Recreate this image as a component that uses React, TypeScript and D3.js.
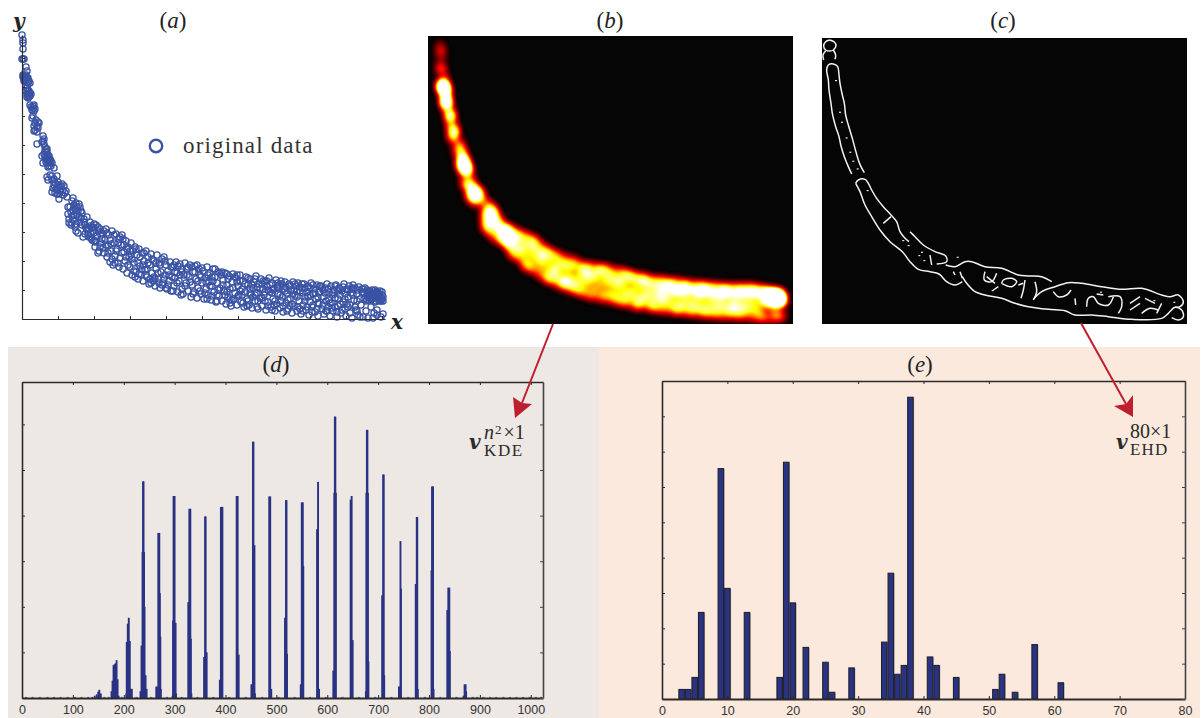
import { useEffect, useRef } from 'react';
import * as d3 from 'd3';

// (a) original data
const originalData: [number, number][] = [
  [0,284],[1,279],[1,276],[1,270],[1,260],[0,260],[2,260],[4,252],[5,248],[2,243],[4,242],[6,241],[3,241],[8,236],[6,237],[1,244],[3,238],[5,231],[5,225],[8,226],[7,222],[6,224],[9,225],
  [8,214],[11,213],[13,210],[11,211],[10,201],[14,199],[17,196],[12,193],[16,191],[12,188],[15,187],
  [21,183],[22,180],[15,175],[20,177],[23,172],[20,163],[25,167],[23,162],[26,164],[28,160],[21,156],[25,156],[24,160],[27,158],[30,156],[32,151],[27,153],[29,158],[26,152],
  [25,142],[28,144],[35,143],[30,139],[33,136],[40,135],[31,131],[35,129],[41,129],[30,127],[37,120],[45,122],[51,121],[33,126],[38,132],[43,126],[36,134],
  [54,116],[48,112],[58,112],[51,109],[46,105],[55,104],[60,106],[52,114],[56,108],[51,99],[49,94],[53,92],[58,97],[50,103],[47,96],[56,86],[54,95],[61,82],[65,89],[65,102],[68,97],[59,101],[71,92],[76,92],[67,82],[73,77],[76,66],
  [62,100],[64,91],[66,84],[68,93],[70,79],[71,88],[73,72],[74,94],[75,83],[77,68],[78,90],[79,76],[80,86],[81,71],
  [82,66],[83,79],[84,90],[85,62],[86,73],[87,84],[88,57],[89,68],[90,88],[91,54],[92,76],[93,63],[94,85],[95,70],[96,56],[97,80],[98,61],[99,74],[100,84],
  [101,50],[102,67],[103,58],[104,78],[105,46],[106,72],[107,62],[108,52],[109,76],[110,44],[111,68],[112,56],[113,72],[114,47],[115,64],[116,40],[117,70],[118,53],[119,44],[120,66],
  [121,38],[122,58],[123,49],[124,68],[125,42],[126,62],[127,35],[128,54],[129,65],[130,46],[131,38],[132,58],[133,33],[134,50],[135,64],[136,40],[137,56],[138,31],[139,47],[140,60],
  [141,36],[142,62],[143,44],[144,54],[145,30],[146,48],[147,38],[148,57],[149,28],[150,42],[151,52],[152,33],[153,47],[154,57],[155,46],[156,27],[157,38],[158,55],[159,50],[160,30],
  [161,25],[162,44],[163,56],[164,36],[165,50],[166,28],[167,42],[168,54],[169,22],[170,34],[171,47],[172,27],[173,53],[174,40],[175,21],[176,31],[177,50],[178,44],[179,25],[180,36],
  [181,48],[182,20],[183,41],[184,30],[185,52],[186,24],[187,37],[188,46],[189,19],[190,33],[191,50],[192,27],[193,42],[194,17],[195,36],[196,47],[197,23],[198,31],[199,44],[200,18],
  [201,39],[202,28],[203,46],[204,15],[205,34],[206,22],[207,43],[208,30],[209,13],[210,37],[211,45],[212,20],[213,26],[214,41],[215,14],[216,33],[217,24],[218,44],[219,17],[220,30],
  [221,38],[222,12],[223,27],[224,42],[225,20],[226,34],[227,14],[228,40],[229,24],[230,11],[231,31],[232,37],[233,18],[234,43],[235,26],[236,10],[237,35],[238,21],[239,40],[240,13],
  [241,30],[242,24],[243,38],[244,9],[245,33],[246,17],[247,41],[248,27],[249,12],[250,36],[251,20],[252,30],[253,8],[254,39],[255,15],[256,25],[257,34],[258,11],[259,38],[260,22],
  [261,7],[262,30],[263,37],[264,16],[265,26],[266,10],[267,35],[268,20],[269,28],[270,6],[271,37],[272,13],[273,24],[274,33],[275,8],[276,36],[277,18],[278,28],[279,5],[280,31],
  [281,14],[282,35],[283,22],[284,9],[285,27],[286,33],[287,4],[288,17],[289,36],[290,12],[291,25],[292,30],[293,7],[294,20],[295,34],[296,3],[297,15],[298,27],[299,33],[300,10],
  [301,22],[302,5],[303,31],[304,18],[305,35],[306,12],[307,26],[308,3],[309,33],[310,16],[311,8],[312,29],[313,21],[314,34],[315,2],[316,13],[317,31],[318,24],[319,6],[320,28],
  [321,17],[322,35],[323,10],[324,3],[325,30],[326,22],[327,33],[328,14],[329,26],[330,1],[331,34],[332,19],[333,31],[334,9],[335,25],[336,4],[337,32],[338,2],[339,14],[340,27],
  [341,2],[342,20],[343,31],[344,8],[345,24],[346,1],[347,28],[348,21],[349,12],[350,26],[351,1],[352,23],[353,29],[354,18],[355,4],[356,25],[357,21],[358,28],[359,2],[360,24],
  [361,18],[361,5],[346,26],[350,20],[354,26],[357,25],[358,19],[348,24],[352,28],[356,22],[360,20],[347,19],[353,22],[355,27],[340,30],[345,29],[355,9],[352,6],
  [190,42],[205,27],[215,37],[228,30],[235,32],[243,18],[250,26],[256,31],[268,13],[272,29],[278,10],[283,31],[288,24],[296,22],[301,29],[307,19],[313,12],[318,30],[323,25],[329,30],
  [184,37],[195,24],[208,20],[218,28],[226,18],[233,24],[240,35],[246,29],[252,14],[259,18],[264,32],[275,22],[281,26],[291,14],[297,27],[304,8],[310,24],[316,20],[326,12],[335,18],
];
// second reading of the denser parts of the band
const originalDataDense: [number, number][] = [
  [1,242],[2,240],[3,243],[4,239],[5,241],[4,244],[2,238],[6,236],[7,238],[5,234],
  [4,228],[5,222],[6,229],[7,226],[8,223],[6,221],[7,228],[9,212],[10,209],[12,214],[12,208],[11,203],[13,196],[15,193],[13,189],[16,197],
  [21,178],[22,175],[24,170],[23,168],[25,163],[26,160],[27,163],[24,157],[28,156],[26,158],[29,153],[22,165],[25,170],
  [26,139],[30,143],[32,140],[34,130],[36,137],[38,128],[39,133],[32,134],[41,124],[44,128],[35,125],[37,125],[42,133],
  [46,112],[50,118],[53,110],[57,115],[49,107],[55,112],[59,108],[47,100],[52,104],[57,102],[62,97],[50,96],[54,88],[60,94],[63,85],[66,90],[69,85],[72,95],
  [63,94],[67,90],[69,81],[72,86],[70,92],[74,78],[76,88],[78,72],[72,78],[80,80],[82,88],[84,74],[79,84],[86,66],[88,79],[85,86],[90,60],[92,84],[89,75],[94,68],[96,76],[93,56],[98,82],[100,66],[97,52],[102,74],[104,62],[101,80],
  [106,54],[108,68],[105,70],[110,60],[112,48],[109,64],[114,70],[116,56],[113,42],[118,62],[120,50],[117,45],[122,66],[124,44],[121,54],[126,56],[128,40],[125,50],[130,60],[132,42],[129,36],[134,56],[136,46],[133,40],[138,54],[140,34],[137,36],
  [143,58],[146,34],[142,40],[149,52],[147,44],[144,31],[152,54],[155,36],[151,28],[158,44],[156,53],[153,41],[160,47],[163,33],[159,24],[166,52],[168,37],[165,44],[171,25],[173,47],[170,52],[176,38],[178,28],[175,54],[180,51],[183,26],[179,42],
  [186,44],[188,33],[185,20],[191,38],[193,50],[190,23],[196,29],[198,46],[195,18],[201,34],[203,24],[200,47],[206,40],[208,16],[205,45],[211,31],[213,42],[210,19],[216,23],[218,38],[215,44],[221,16],[223,35],[220,24],[226,41],[228,26],[225,13],[231,22],[233,40],[230,34],[236,18],[238,30],[235,12],[241,38],[243,27],[240,21],
  [246,13],[248,34],[245,38],[251,29],[253,18],[250,9],[256,36],[258,24],[255,32],[261,13],[263,28],[260,35],[266,19],[268,33],[265,8],[271,25],[273,35],[270,15],[276,12],[278,32],[275,28],[281,8],[283,18],[280,35],[286,22],[288,31],[285,12],[291,34],[293,26],[290,7],[296,16],[298,33],[295,10],[301,14],[303,26],[300,31],
  [306,30],[308,16],[305,8],[311,26],[313,33],[310,11],[316,28],[318,15],[315,7],[321,32],[323,20],[320,9],[326,29],[328,6],[325,15],[331,24],[333,12],[330,31],[336,29],[338,20],[335,8],[342,26],[344,18],[341,30],[346,22],[348,28],[345,19],[351,24],[353,17],[350,29],[356,27],[358,23],[355,21],[360,27],[359,18],[361,22],[349,19],[354,23],[347,25],[357,18],
];
const scatterData = [...originalData, ...originalDataDense];

// (c) edge map, in traced-image units
const edgeLines: [number, number][][] = [
  [[44,60],[58,66],[63,77],[55,90],[44,93],[32,90],[26,78],[32,65],[44,60]],
  [[26,120],[24,105],[32,92]],
  [[55,90],[62,105],[60,118]],
  [[110,462],[100,440],[88,410],[78,378],[72,350],[62,320],[52,280],[48,250],[42,210],[40,180],[35,150],[40,135],[55,132],[68,140],[72,165],[75,190],[82,225],[88,250],[92,285],[100,315],[112,355],[120,385],[130,420],[138,440],[148,458]],
  [[122,490],[130,480],[150,478],[160,490],[170,510],[185,535],[205,560],[228,585],[245,605],[255,635],[270,655],[282,665]],
  [[122,490],[135,515],[150,555],[170,590],[195,630],[225,665],[262,695],[285,725],[310,748],[345,755],[372,762],[395,785],[420,795],[442,785]],
  [[205,610],[228,590]],
  [[285,635],[300,650],[325,675],[360,695],[392,708],[395,725],[365,732]],
  [[392,735],[420,740],[450,725],[470,725],[510,740],[560,745],[610,765],[640,768],[680,770],[710,785]],
  [[442,770],[455,790],[480,815],[510,825],[560,835],[600,850],[640,860],[700,868],[750,872],[780,885],[830,885],[880,890],[950,898],[1040,895],[1060,880],[1080,862],[1100,870],[1105,890],[1090,900],[1070,893]],
  [[655,838],[680,815],[720,800],[760,788],[800,790],[860,800],[920,808],[980,805],[1040,825],[1065,830],[1090,825],[1105,845],[1095,860],[1080,862]],
  [[510,755],[508,780],[530,785],[545,760]],
  [[560,790],[590,800],[605,785],[590,775],[565,780],[560,790]],
  [[630,780],[625,810],[618,835]],
  [[660,785],[665,815],[655,840]],
  [[715,815],[730,830],[755,825],[768,810]],
  [[780,835],[782,855]],
  [[815,860],[820,835],[835,830],[850,850],[880,855],[895,830]],
  [[845,822],[865,825]],
  [[880,830],[915,830],[920,860],[910,880]],
  [[945,850],[975,830]],
  [[945,870],[975,850]],
  [[980,880],[1005,865],[1030,870]],
  [[990,835],[1020,850]],
  [[1040,850],[1025,880]],
  [[535,810],[550,800]],
  [[415,755],[420,765]],
  [[435,755],[442,775]],
  [[345,705],[350,735]],
  [[515,770],[540,790]],
  [[610,795],[625,790]],
];
const edgeDots: [number, number][] = [
  [60,180],[72,275],[78,305],[92,352],[103,395],[112,422],[125,445],[155,510],[262,660],[278,675],[318,695],[325,720],[310,705],[425,710],[1075,845],[1015,840],[855,815],[530,810],
];

// (d) KDE vector: bin index and height of every spike bin
const kdeBins = [
  142,146,149,151,154,
  175,177,179,181,183,185,187,189,
  204,205,207,209,211,213,215,
  232,234,236,237,238,239,240,242,244,
  263,265,267,269,270,271,272,
  295,296,297,299,301,302,
  326,327,328,330,331,332,
  357,359,360,361,362,
  388,390,392,393,
  421,423,425,
  450,452,453,454,455,456,457,
  485,487,489,
  516,518,519,520,
  547,549,551,552,
  579,581,583,
  611,613,614,615,616,
  645,647,649,
  675,676,677,678,679,680,
  707,709,710,711,
  740,741,743,744,
  773,775,776,777,
  804,805,807,808,
  835,837,839,840,
  867,869,871,872,
];
const kdeValues = [
  .05,.08,.14,.18,.1,
  .15,.38,.72,.74,.76,.83,.41,.05,
  .1,1.23,1.63,1.76,1.25,.2,.2,
  .15,1.15,3.2,4.75,4.75,3.2,2.0,.5,.2,
  .25,.25,3.62,3.62,2.3,1.35,.2,
  .05,1.7,4.43,4.43,1.65,.1,
  2.1,2.1,4.15,4.15,1.3,.1,
  .9,3.98,3.98,1.0,1.0,
  .4,4.19,4.19,4.19,
  4.43,4.43,.95,
  .3,.3,5.62,5.62,3.35,3.35,.1,
  4.42,4.42,.2,
  1.76,4.34,4.34,.97,
  .3,4.29,4.29,2.9,
  3.7,4.74,.2,
  .6,4.5,6.17,6.17,4.5,
  4.35,4.43,1.27,
  .15,4.5,5.88,5.88,4.5,.8,
  2.25,4.9,4.9,.5,
  .25,.25,3.44,2.4,
  2.5,3.97,3.97,.2,
  2.8,4.64,4.64,.2,
  1.93,2.42,2.42,1.03,
  .05,.3,.3,.15,
];
const kdeNoise = [
  6,19,33,48,61,74,88,102,115,128,136,160,168,194,223,252,283,312,343,374,405,438,470,502,534,564,596,628,660,692,724,757,790,820,852,884,893,905,918,930,944,957,970,983,996,1008,1018,
];

// (e) EHD histogram
const ehdBins = [3,4,5,6,9,10,13,18,19,20,22,25,26,29,34,35,36,37,38,41,42,45,51,52,54,57,61];
const ehdValues = [.27,.27,.61,2.45,6.52,3.13,2.45,.61,6.7,2.72,1.46,1.04,.19,.88,1.61,3.56,.7,.95,8.54,1.19,.95,.61,.27,.7,.19,1.54,.46];

const blue = '#3a53a4';
const barBlue = '#2a3284';
const red = '#be1e2d';
const serif = '"Liberation Serif", serif';
const boldSerif = '"DejaVu Serif", serif';
const sans = '"Liberation Sans", sans-serif';

const hot = (t: number) => {
  const c = (v: number) => Math.round(255 * Math.max(0, Math.min(1, v)));
  return `rgb(${c(t / 0.38)},${c((t - 0.38) / 0.36)},${c((t - 0.74) / 0.26)})`;
};

// panel scales
const ax = d3.scaleLinear().domain([0, 363]).range([22, 385]);
const ay = d3.scaleLinear().domain([0, 284]).range([319, 35]);
const bx = d3.scaleLinear().domain([0, 363]).range([12, 357]);
const by = d3.scaleLinear().domain([0, 284]).range([284, 9]);
const cx = d3.scaleLinear().domain([0, 1140]).range([815, 1195]);
const cy = d3.scaleLinear().domain([0, 930]).range([20, 330]);
const dx = d3.scaleLinear().domain([0, 1024]).range([22, 543]);
const dy = d3.scaleLinear().domain([0, 6.93]).range([698, 382]);
const ex = d3.scaleLinear().domain([0, 80]).range([662, 1185]);
const ey = d3.scaleLinear().domain([0, 9]).range([699, 381]);

const Axis = ({ make, at, color = '#2b2b2b', width = 1.6 }: any) => {
  const ref = useRef<SVGGElement>(null);
  useEffect(() => {
    const g = d3.select(ref.current!);
    g.call(make);
    g.selectAll('.domain').attr('stroke', color).attr('stroke-width', width);
    g.selectAll('.tick line').attr('stroke', color).attr('stroke-width', 1);
    g.selectAll('.tick text')
      .attr('fill', '#333')
      .style('font-family', sans)
      .style('font-size', '12.5px');
  }, []);
  return <g ref={ref} transform={at} />;
};

const blank = () => '';
const xTicksD = d3.range(0, 1001, 100);
const yTicksD = d3.range(0, 7);
const xTicksE = d3.range(0, 81, 10);
const yTicksE = d3.range(0, 9);

const Frame = ({ x, y, xTicks, yTicks }: any) => {
  const [x0, x1] = x.range();
  const [y0, y1] = y.range();
  return (
    <g>
      <Axis make={d3.axisBottom(x).tickValues(xTicks).tickSize(-3).tickSizeOuter(0).tickPadding(7).tickFormat(d3.format('d'))} at={`translate(0,${y0})`} width={2} />
      <Axis make={d3.axisTop(x).tickValues(xTicks).tickSize(-3).tickSizeOuter(0).tickFormat(blank)} at={`translate(0,${y1})`} width={1.4} />
      <Axis make={d3.axisLeft(y).tickValues(yTicks).tickSize(-3).tickSizeOuter(0).tickFormat(blank)} at={`translate(${x0},0)`} width={1.6} />
      <Axis make={d3.axisRight(y).tickValues(yTicks).tickSize(-3).tickSizeOuter(0).tickFormat(blank)} at={`translate(${x1},0)`} width={1.6} color="#444" />
    </g>
  );
};

const Title = ({ x, y, letter }: any) => (
  <text x={x} y={y} textAnchor="middle" fontFamily={serif} fontSize={23} fill="#222">
    (<tspan fontStyle="italic">{letter}</tspan>)
  </text>
);

const Arrow = ({ from, tip, left, notch, right }: any) => (
  <g>
    <line x1={from[0]} y1={from[1]} x2={notch[0]} y2={notch[1]} stroke={red} strokeWidth={2} />
    <polygon points={[tip, left, notch, right].map((p) => p.join(',')).join(' ')} fill={red} />
  </g>
);

const kdeContours = d3
  .contourDensity<[number, number]>()
  .x((d) => bx(d[0]))
  .y((d) => by(d[1]))
  .size([365, 288])
  .cellSize(2)
  .bandwidth(3.4)
  .thresholds(d3.range(0.001, 0.08, 0.001))(scatterData);
const hotScale = d3.scaleLinear().domain([0, 0.062]).range([0, 1]);
const contourPath = d3.geoPath();
const edgeLine = d3.line<[number, number]>().x((d) => cx(d[0])).y((d) => cy(d[1])).curve(d3.curveCatmullRom);

export default function App() {
  return (
    <svg
      width={1203}
      height={718}
      style={{ position: 'absolute', left: 0, top: 0, background: 'white' }}
    >
      <defs>
        <clipPath id="kde-clip">
          <rect x={0} y={0} width={365} height={288} />
        </clipPath>
      </defs>
      <rect x={8} y={347} width={591} height={371} fill="#ede8e4" />
      <rect x={599} y={347} width={601} height={371} fill="#fce9dd" />

      {/* (a) */}
      <Title x={173} y={28} letter="a" />
      {scatterData.map((d, i) => (
        <circle key={i} cx={ax(d[0])} cy={ay(d[1])} r={3.1} fill="none" stroke={blue} strokeWidth={1.3} />
      ))}
      <Axis make={d3.axisLeft(ay).tickValues(d3.range(0, 284, 29)).tickSize(-3).tickSizeOuter(0).tickFormat(blank)} at={`translate(22,0)`} width={1.2} />
      <Axis make={d3.axisBottom(ax).tickValues(d3.range(0, 363, 36)).tickSize(-3).tickSizeOuter(0).tickFormat(blank)} at={`translate(0,319)`} width={1.2} />
      <text x={13} y={28} fontFamily={boldSerif} fontSize={20} fontWeight="bold" fontStyle="italic" fill="#222">y</text>
      <text x={391} y={329} fontFamily={boldSerif} fontSize={20} fontWeight="bold" fontStyle="italic" fill="#222">x</text>
      <circle cx={156} cy={146} r={6.2} fill="none" stroke={blue} strokeWidth={2.4} />
      <text x={183} y={153} fontFamily={serif} fontSize={23} letterSpacing={1.15} fill="#333">original data</text>

      {/* (b) */}
      <Title x={610} y={28} letter="b" />
      <rect x={428} y={36} width={365} height={288} fill="#050505" />
      <g transform="translate(428,36)" clipPath="url(#kde-clip)">
        {kdeContours.map((c, i) => (
          <path key={i} d={contourPath(c) ?? ''} fill={hot(hotScale(c.value))} />
        ))}
      </g>

      {/* (c) */}
      <Title x={1003} y={28} letter="c" />
      <rect x={822} y={38} width={365} height={286} fill="#050505" />
      <g fill="none" stroke="#f2f2f2" strokeWidth={1.5} strokeLinejoin="round">
        {edgeLines.map((l, i) => (
          <path key={i} d={edgeLine(l) ?? ''} />
        ))}
      </g>
      {edgeDots.map((d, i) => (
        <rect key={i} x={cx(d[0])} y={cy(d[1])} width={2} height={1.2} fill="#e8e8e8" />
      ))}

      {/* (d) */}
      <Title x={276} y={372} letter="d" />
      {kdeNoise.map((b, i) => (
        <rect key={i} x={dx(b)} y={dy(0.025)} width={2} height={dy(0) - dy(0.025)} fill={barBlue} opacity={0.7} />
      ))}
      {kdeBins.map((b, i) => (
        <rect key={i} x={dx(b) - 0.5} y={dy(kdeValues[i])} width={1.9} height={dy(0) - dy(kdeValues[i])} fill={barBlue} />
      ))}
      <Frame x={dx} y={dy} xTicks={xTicksD} yTicks={yTicksD} />

      {/* (e) */}
      <Title x={920} y={372} letter="e" />
      {ehdBins.map((b, i) => (
        <g key={i}>
          <rect x={ex(b - 0.42) + 1} y={ey(ehdValues[i]) + 0.5} width={ex(0.84) - ex(0)} height={ey(0) - ey(ehdValues[i])} fill="#a9a29c" />
          <rect x={ex(b - 0.42)} y={ey(ehdValues[i])} width={ex(0.84) - ex(0)} height={ey(0) - ey(ehdValues[i])} fill={barBlue} stroke="#23232b" strokeWidth={1.1} />
        </g>
      ))}
      <Frame x={ex} y={ey} xTicks={xTicksE} yTicks={yTicksE} />

      {/* vector labels and arrows */}
      <Arrow from={[553, 324]} tip={[515, 418]} left={[513, 397]} notch={[522, 403]} right={[532, 404]} />
      <Arrow from={[1081, 323]} tip={[1133, 417]} left={[1133, 395]} notch={[1126, 404]} right={[1114, 406]} />
      <g fontFamily={serif} fill="#2a2a2a">
        <text x={469} y={449} fontFamily={boldSerif} fontSize={20} fontWeight="bold" fontStyle="italic">v</text>
        <text x={484} y={439} fontSize={20}>
          <tspan fontStyle="italic">n</tspan>
          <tspan fontSize={13} dy={-5} dx={1}>2</tspan>
          <tspan dy={5} dx={2}>×1</tspan>
        </text>
        <text x={484} y={456} fontSize={17} letterSpacing={1.6}>KDE</text>
        <text x={1116} y={449} fontFamily={boldSerif} fontSize={20} fontWeight="bold" fontStyle="italic">v</text>
        <text x={1130} y={438} fontSize={20}>80×1</text>
        <text x={1130} y={455} fontSize={17} letterSpacing={1.2}>EHD</text>
      </g>
    </svg>
  );
}
